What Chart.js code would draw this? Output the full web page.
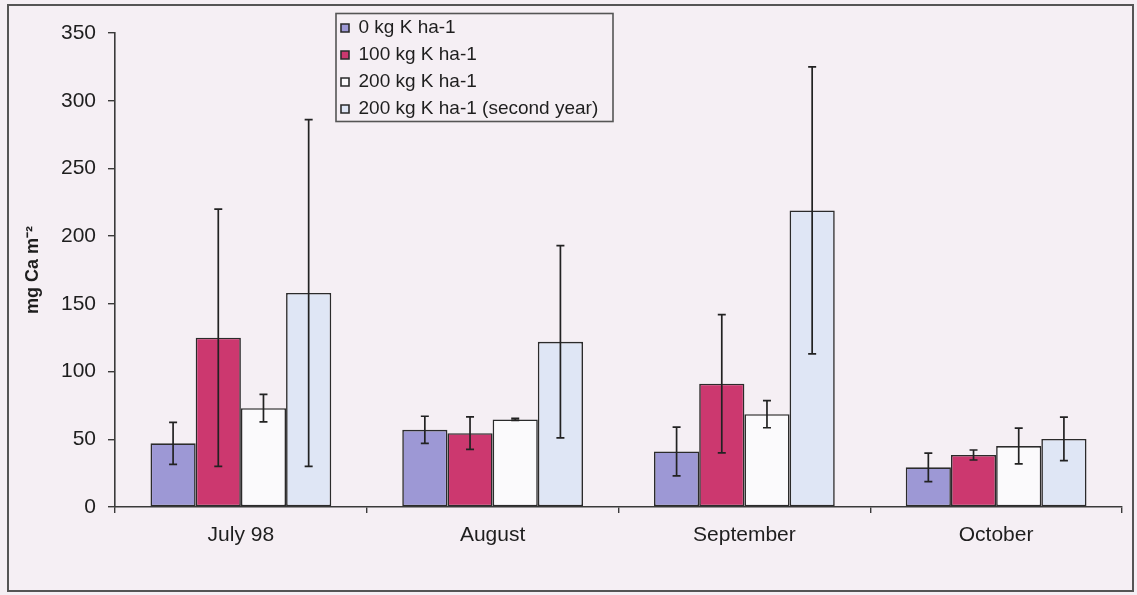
<!DOCTYPE html>
<html>
<head>
<meta charset="utf-8">
<script src="https://cdn.jsdelivr.net/npm/chart.js@4.4.1/dist/chart.umd.min.js"></script>
<style>
  html, body { margin: 0; padding: 0; background: #f5eff4; }
  canvas { display: block; }
</style>
</head>
<body>
<canvas id="chart" width="1137" height="595"></canvas>
<script>
// ---- data ----
const categories = ['July 98', 'August', 'September', 'October'];
const seriesNames = ['0 kg K ha-1', '100 kg K ha-1', '200 kg K ha-1', '200 kg K ha-1 (second year)'];

const k0 = [47, 57, 41, 29.3];
const k0Err = [15.5, 10, 18, 10.5];

const k100 = [125, 54.5, 91, 38.4];
const k100Err = [95, 12, 51, 3.7];

const k200 = [73, 64.7, 68.5, 45];
const k200Err = [10.2, 0.8, 10, 13.2];

const k200b = [158, 122, 219, 50.3];
const k200bErr = [128, 71, 106, 16];

const yTickValues = [0, 50, 100, 150, 200, 250, 300, 350];
const yTitle = 'mg Ca m\u207B\u00B2';

// ---- styles ----
const fills = ['#9d98d5', '#cc386f', '#fbfafc', '#dfe6f5'];
const ink = '#1e1e1e';
const FONT = '"Liberation Sans", Arial, Helvetica, sans-serif';

const values = [k0, k100, k200, k200b];
const errors = [k0Err, k100Err, k200Err, k200bErr];

const datasets = seriesNames.map((name, i) => ({
  label: name,
  data: values[i],
  errors: errors[i],
  backgroundColor: fills[i],
  borderColor: '#2b2b2b',
  borderWidth: 1.6,
  borderSkipped: false,
  categoryPercentage: 0.718,
  barPercentage: 1.0
}));

const pagePlugin = {
  id: 'page',
  beforeDraw(chart) {
    const ctx = chart.ctx;
    ctx.save();
    ctx.fillStyle = '#f5eff4';
    ctx.fillRect(0, 0, chart.width, chart.height);
    ctx.strokeStyle = '#555555';
    ctx.lineWidth = 2;
    ctx.strokeRect(8, 5, chart.width - 12, chart.height - 9);
    ctx.restore();
  }
};

const errorBarPlugin = {
  id: 'errorBars',
  afterDatasetsDraw(chart) {
    const ctx = chart.ctx;
    const yScale = chart.scales.y;
    ctx.save();
    ctx.strokeStyle = '#222222';
    ctx.lineWidth = 1.7;
    chart.data.datasets.forEach((ds, di) => {
      const meta = chart.getDatasetMeta(di);
      meta.data.forEach((bar, j) => {
        const v = ds.data[j];
        const e = ds.errors[j];
        const x = bar.x;
        const yHi = yScale.getPixelForValue(v + e);
        const yLo = yScale.getPixelForValue(v - e);
        const cap = 4;
        ctx.beginPath();
        ctx.moveTo(x, yHi); ctx.lineTo(x, yLo);
        ctx.moveTo(x - cap, yHi); ctx.lineTo(x + cap, yHi);
        ctx.moveTo(x - cap, yLo); ctx.lineTo(x + cap, yLo);
        ctx.stroke();
      });
    });
    ctx.restore();
  }
};

const legendPlacePlugin = {
  id: 'legendPlace',
  afterLayout(chart) {
    const lg = chart.legend;
    if (!lg) return;
    lg.left = 333;
    lg.top = 10.5;
    lg.width = 290;
    lg.height = 170;
    lg.right = lg.left + lg.width;
    lg.bottom = lg.top + lg.height;
  },
  afterDraw(chart) {
    const lg = chart.legend;
    if (!lg || !lg.legendHitBoxes || !lg.legendHitBoxes.length) return;
    const boxes = lg.legendHitBoxes;
    const first = boxes[0], last = boxes[boxes.length - 1];
    const ctx = chart.ctx;
    ctx.save();
    ctx.strokeStyle = '#555555';
    ctx.lineWidth = 1.6;
    const l = first.left - 5;
    const t = first.top - 5;
    const r = 613;
    const b = last.top + last.height + 3;
    ctx.strokeRect(l, t, r - l, b - t);
    ctx.restore();
  }
};

new Chart(document.getElementById('chart'), {
  type: 'bar',
  data: { labels: categories, datasets },
  options: {
    responsive: false,
    animation: false,
    devicePixelRatio: 1,
    layout: { padding: { top: 33, right: 15, left: 0, bottom: 0 } },
    plugins: {
      legend: {
        display: true,
        position: 'chartArea',
        align: 'start',
        labels: {
          boxWidth: 8,
          boxHeight: 8,
          padding: 8,
          color: ink,
          font: { family: FONT, size: 19 }
        }
      },
      tooltip: { enabled: false }
    },
    scales: {
      x: {
        offset: true,
        grid: {
          offset: true,
          drawOnChartArea: false,
          drawTicks: true,
          tickLength: 6,
          color: '#3a3a3a',
          lineWidth: 1.4
        },
        border: { display: true, color: '#3a3a3a', width: 1.6 },
        ticks: {
          color: ink,
          padding: 10,
          font: { family: FONT, size: 21 }
        },
        afterFit(scale) { scale.height = 88; }
      },
      y: {
        min: 0,
        max: 350,
        afterBuildTicks(scale) { scale.ticks = yTickValues.map(v => ({ value: v })); },
        grid: {
          drawOnChartArea: false,
          drawTicks: true,
          tickLength: 7,
          color: '#3a3a3a',
          lineWidth: 1.4
        },
        border: { display: true, color: '#3a3a3a', width: 1.6 },
        ticks: {
          color: ink,
          padding: 12,
          font: { family: FONT, size: 21 }
        },
        title: {
          display: true,
          text: yTitle,
          color: ink,
          padding: { top: 22, bottom: 0 },
          font: { family: FONT, size: 18, weight: 'bold' }
        },
        afterFit(scale) { scale.width = 115; }
      }
    }
  },
  plugins: [pagePlugin, errorBarPlugin, legendPlacePlugin]
});
</script>
</body>
</html>
